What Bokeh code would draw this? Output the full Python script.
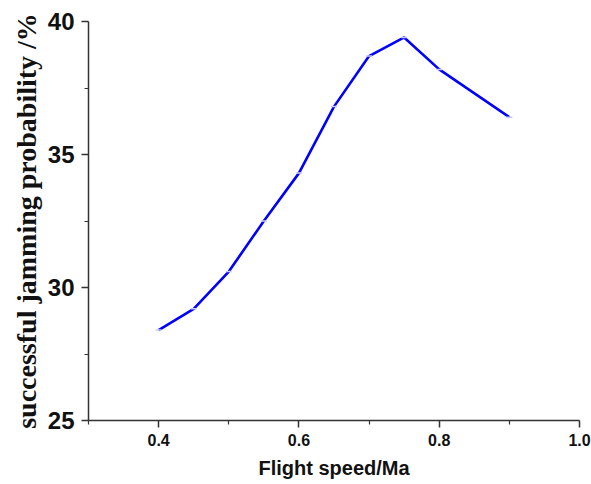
from bokeh.plotting import figure
from bokeh.models import Range1d, FixedTicker, PrintfTickFormatter
from bokeh.embed import file_html
from bokeh.resources import INLINE

speed = [0.4, 0.45, 0.5, 0.55, 0.6, 0.65, 0.7, 0.75, 0.8, 0.9]
prob = [28.4, 29.2, 30.6, 32.5, 34.3, 36.8, 38.7, 39.4, 38.2, 36.4]
x_ticks = [0.4, 0.6, 0.8, 1.0]
x_minor = [0.3, 0.5, 0.7, 0.9]
y_ticks = [25, 30, 35, 40]
y_minor = [27.5, 32.5, 37.5]

p = figure(width=591, height=484, output_backend="svg", toolbar_location=None,
           x_range=Range1d(0.3, 1.0), y_range=Range1d(25, 40),
           min_border_left=88, min_border_right=12, min_border_top=21,
           min_border_bottom=64)
p.outline_line_color = None
p.xgrid.visible = False
p.ygrid.visible = False

p.line(speed, prob, line_color="#0000ff", line_width=2.6)
p.scatter(speed, prob, marker="dash", size=6, line_color="#c8c8ff", line_width=1.5)

p.xaxis.ticker = FixedTicker(ticks=x_ticks, minor_ticks=x_minor)
p.yaxis.ticker = FixedTicker(ticks=y_ticks, minor_ticks=y_minor)
p.xaxis.formatter = PrintfTickFormatter(format="%.1f")

for ax in (p.xaxis, p.yaxis):
    ax.axis_line_color = "#333333"
    ax.axis_line_width = 1.5
    ax.major_tick_line_color = "#333333"
    ax.minor_tick_line_color = "#333333"
    ax.major_tick_line_width = 1.5
    ax.minor_tick_line_width = 1.2
    ax.major_tick_in = 0
    ax.major_tick_out = 7
    ax.minor_tick_in = 0
    ax.minor_tick_out = 4
    ax.major_label_text_font = "Liberation Sans"
    ax.major_label_text_font_style = "bold"
    ax.major_label_text_color = "#111111"

p.xaxis.major_label_text_font_size = "16px"
p.xaxis.major_label_standoff = 6
p.xaxis.axis_label = "Flight speed/Ma"
p.xaxis.axis_label_text_font = "Liberation Sans"
p.xaxis.axis_label_text_font_style = "bold"
p.xaxis.axis_label_text_font_size = "20px"
p.xaxis.axis_label_text_color = "#111111"
p.xaxis.axis_label_standoff = 8

p.yaxis.major_label_text_font_size = "24px"
p.yaxis.major_label_standoff = 7
p.yaxis.axis_label = "successful jamming probability /%"
p.yaxis.axis_label_text_font = "Liberation Serif"
p.yaxis.axis_label_text_font_style = "bold"
p.yaxis.axis_label_text_font_size = "28px"
p.yaxis.axis_label_text_color = "#111111"
p.yaxis.axis_label_standoff = 3

open("out.html", "w").write(file_html(p, INLINE))
